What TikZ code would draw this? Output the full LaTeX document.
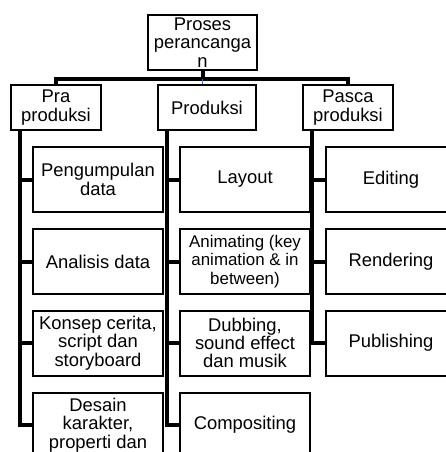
\documentclass[tikz,border=0pt]{standalone}
\usepackage{fontspec}
\setmainfont{Liberation Sans}
\definecolor{linkblue}{RGB}{68,114,196}
\begin{document}
\begin{tikzpicture}[x=1pt, y=-1pt,
  box/.style={draw, line width=2pt, fill=white, inner sep=0pt, align=center,
    minimum width=130pt, minimum height=65pt, font=\fontsize{18.4}{18.3}\selectfont},
  head/.style={box, minimum width=90pt, minimum height=45pt},
  link/.style={line width=4pt}]

  \fill[white] (0,0) rectangle (446,452);
  \useasboundingbox (0,0) rectangle (446,452);

  % top and phases
  \node[box, minimum width=109pt, minimum height=55pt] (proses) at (202.5, 42.5) {Proses\\perancanga\\n};
  \node[head] (pra)      at (56, 107.5)  {Pra\\produksi};
  \node[head, minimum width=98pt] (produksi) at (207, 107.5) {Produksi};
  \node[head] (pasca)    at (348, 107.5) {Pasca\\produksi};

  % pra produksi
  \node[box] (pengumpulan) at (98, 179.5) {Pengumpulan\\data};
  \node[box] (analisis)    at (98, 261.5) {Analisis data};
  \node[box] (konsep)      at (98, 343)   {Konsep cerita,\\script dan\\storyboard};
  \node[box] (desain)      at (98, 425)   {Desain\\karakter,\\properti dan};

  % produksi
  \node[box] (layout)      at (245, 179.5) {Layout};
  \node[box, font=\fontsize{16.9}{18.3}\selectfont] (animating) at (245, 261.5) {Animating (key\\animation \& in\\between)};
  \node[box] (dubbing)     at (245, 343)   {Dubbing,\\sound effect\\dan musik};
  \node[box] (compositing) at (245, 425)   {Compositing};

  % pasca produksi
  \node[box] (editing)     at (391, 179.5) {Editing};
  \node[box] (rendering)   at (391, 261.5) {Rendering};
  \node[box] (publishing)  at (391, 343)   {Publishing};

  % links
  \coordinate (hub) at ([yshift=-8pt]proses.south);
  \draw[link] (proses.south) -- (hub);
  \draw[link] (pra.north) |- (hub) -| (pasca.north);
  \draw[line width=1pt, linkblue] (hub) -- (hub |- produksi.north);

  \coordinate (praT)   at ([xshift=10pt]pra.south west);
  \coordinate (prodT)  at ([xshift=10pt]produksi.south west);
  \coordinate (pascaT) at ([xshift=10pt]pasca.south west);

  \draw[link] (praT) |- (desain.west);
  \draw[link] (praT |- pengumpulan.west) -- (pengumpulan.west);
  \draw[link] (praT |- analisis.west) -- (analisis.west);
  \draw[link] (praT |- konsep.west) -- (konsep.west);

  \draw[link] (prodT) |- (compositing.west);
  \draw[link] (prodT |- layout.west) -- (layout.west);
  \draw[link] (prodT |- animating.west) -- (animating.west);
  \draw[link] (prodT |- dubbing.west) -- (dubbing.west);

  \draw[link] (pascaT) |- (publishing.west);
  \draw[link] (pascaT |- editing.west) -- (editing.west);
  \draw[link] (pascaT |- rendering.west) -- (rendering.west);

\end{tikzpicture}
\end{document}
